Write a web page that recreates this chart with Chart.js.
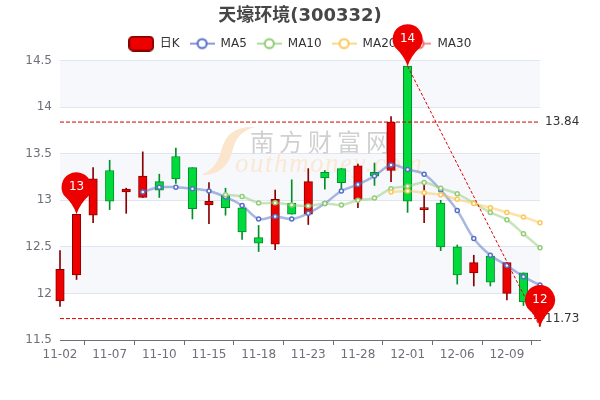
<!DOCTYPE html>
<html>
<head>
<meta charset="utf-8">
<style>
    html, body { margin: 0; padding: 0; background: #fff; }
    canvas { display: block; }
</style>
<script src="https://cdn.jsdelivr.net/npm/chart.js@4/dist/chart.umd.min.js"></script>
</head>
<body>
<canvas id="klineChart" width="600" height="400"></canvas>
<script>
    // Daily data
    const dates = ['11-02','11-03','11-04','11-07','11-08','11-09','11-10','11-11','11-14','11-15',
                   '11-16','11-17','11-18','11-21','11-22','11-23','11-24','11-25','11-28','11-29',
                   '11-30','12-01','12-02','12-05','12-06','12-07','12-08','12-09','12-12','12-13'];
    const opens  = [11.92,12.20,12.84,13.32,13.09,13.03,13.20,13.47,13.35,12.95,
                    13.05,12.92,12.60,12.53,12.97,12.85,13.30,13.34,13.01,13.30,
                    13.32,14.44,12.90,12.97,12.50,12.22,12.40,12.00,12.22,12.03];
    const closes = [12.26,12.85,13.23,12.99,13.12,13.26,13.11,13.23,12.91,12.99,
                    12.92,12.66,12.54,13.01,12.85,13.20,13.24,13.19,13.37,13.26,
                    13.84,12.99,12.91,12.50,12.20,12.33,12.12,12.33,11.91,11.73];
    const lows   = [11.86,12.15,12.76,12.90,12.86,13.03,13.03,13.18,12.80,12.75,
                    12.84,12.58,12.45,12.47,12.85,12.74,13.12,13.12,12.92,13.16,
                    13.20,12.87,12.76,12.46,12.10,12.08,12.08,11.93,11.87,11.65];
    const highs  = [12.46,12.85,13.35,13.43,13.13,13.52,13.28,13.56,13.35,13.19,
                    13.13,12.92,12.73,13.11,13.22,13.34,13.32,13.34,13.39,13.40,
                    13.90,14.44,13.16,13.00,12.52,12.41,12.43,12.33,12.22,12.05];

    const ma5 = [null,null,null,null,null,13.09,13.14,13.14,13.125,13.10,
                 13.035,12.945,12.80,12.825,12.80,12.86,12.965,13.10,13.17,13.26,
                 13.38,13.33,13.28,13.11,12.89,12.59,12.41,12.30,12.18,12.09];
    const ma10 = [null,null,null,null,null,null,null,null,null,null,
                  13.06,13.04,12.97,12.975,12.95,12.94,12.965,12.95,13.00,13.025,
                  13.125,13.15,13.19,13.13,13.07,12.97,12.87,12.79,12.64,12.49];
    const ma20 = [null,null,null,null,null,null,null,null,null,null,
                  null,null,null,null,null,null,null,null,null,null,
                  13.09,13.10,13.08,13.06,13.01,12.965,12.92,12.87,12.82,12.76];
    const ma30 = [];

    // Mark lines and pins
    const markHigh = 13.84;
    const markLow = 11.73;
    const trendLine = [null,null,null,null,null,null,null,null,null,null,
                       null,null,null,null,null,null,null,null,null,null,
                       null,14.44,null,null,null,null,null,null,null,11.64];
    const pinIndexes = [1, 21, 29];
    const pinValues = [12.85, 14.44, 11.64];
    const pinLabels = ['13', '14', '12'];
    const bandRanges = [[14, 14.5], [13, 13.5], [12, 12.5]];

    const UP = '#ec0000', UP_BORDER = '#8a0000';
    const DOWN = '#00da3c', DOWN_BORDER = '#008f28';
    const FONT = "'DejaVu Sans', 'Noto Sans CJK SC', sans-serif";

    const isUp = i => closes[i] >= opens[i];

    // Legend icons
    function lineIcon(color) {
        const c = document.createElement('canvas');
        c.width = 25; c.height = 14;
        const g = c.getContext('2d');
        g.globalAlpha = 0.7;
        g.strokeStyle = color;
        g.lineWidth = 2;
        g.beginPath(); g.moveTo(0, 7); g.lineTo(25, 7); g.stroke();
        g.globalAlpha = 1;
        g.fillStyle = '#fff';
        g.beginPath(); g.arc(12.5, 7, 4.5, 0, Math.PI * 2); g.fill(); g.stroke();
        return c;
    }

    function candleIcon() {
        const c = document.createElement('canvas');
        c.width = 26; c.height = 16;
        const g = c.getContext('2d');
        g.fillStyle = UP;
        g.strokeStyle = UP_BORDER;
        g.lineWidth = 2;
        g.beginPath(); g.roundRect(1, 1, 24, 14, 4); g.fill(); g.stroke();
        return c;
    }

    // One extra pixel under the legend
    const legendFitPlugin = {
        id: 'legendFit',
        beforeInit(chart) {
            const fit = chart.legend.fit;
            chart.legend.fit = function () {
                fit.call(this);
                this.height += 1;
            };
        }
    };

    // Bands behind the grid
    const bandsPlugin = {
        id: 'bands',
        beforeDraw(chart) {
            const { ctx, chartArea, scales } = chart;
            ctx.save();
            ctx.fillStyle = '#f6f8fc';
            bandRanges.forEach(r => {
                const top = scales.y.getPixelForValue(r[1]);
                const bottom = scales.y.getPixelForValue(r[0]);
                ctx.fillRect(chartArea.left, top, chartArea.width, bottom - top);
            });
            ctx.restore();
        }
    };

    // Site watermark under the candles
    const watermarkPlugin = {
        id: 'watermark',
        beforeDatasetsDraw(chart) {
            const ctx = chart.ctx;
            ctx.save();
            ctx.fillStyle = '#fbe6cd';
            ctx.beginPath();
            ctx.moveTo(201, 175);
            ctx.bezierCurveTo(214, 170, 219, 160, 222, 148);
            ctx.bezierCurveTo(226, 134, 236, 126, 255, 127);
            ctx.bezierCurveTo(240, 131, 235, 140, 232, 152);
            ctx.bezierCurveTo(228, 168, 216, 176, 201, 175);
            ctx.fill();

            ctx.textBaseline = 'alphabetic';
            ctx.textAlign = 'left';
            ctx.fillStyle = '#d0d0d0';
            ctx.font = "24px 'Noto Sans CJK SC'";
            ctx.letterSpacing = '5px';
            ctx.fillText('南方财富网', 250, 151);
            ctx.fillStyle = '#fbe8d4';
            ctx.font = "italic 27px 'Liberation Serif'";
            ctx.letterSpacing = '1.5px';
            ctx.fillText('outhmoney.com', 235, 172);
            ctx.restore();
        }
    };

    // Pins and mark line labels
    const marksPlugin = {
        id: 'marks',
        afterDatasetsDraw(chart) {
            const { ctx, scales } = chart;
            ctx.save();
            ctx.font = '12px ' + FONT;
            ctx.textBaseline = 'middle';
            ctx.textAlign = 'left';
            ctx.fillStyle = '#333';
            [markHigh, markLow].forEach(v => {
                ctx.fillText(v.toFixed(2), 545, scales.y.getPixelForValue(v));
            });

            ctx.textAlign = 'center';
            pinIndexes.forEach((idx, n) => {
                const x = scales.x.getPixelForValue(idx);
                const tip = scales.y.getPixelForValue(pinValues[n]);
                const cy = tip - 27;
                const r = 15;
                ctx.fillStyle = UP;
                ctx.beginPath();
                ctx.arc(x, cy, r, Math.PI * 0.82, Math.PI * 0.18);
                ctx.quadraticCurveTo(x + 3, cy + r + 2, x, tip);
                ctx.quadraticCurveTo(x - 3, cy + r + 2, x - r * Math.cos(Math.PI * 0.18), cy + r * Math.sin(Math.PI * 0.18));
                ctx.fill();
                ctx.fillStyle = '#fff';
                ctx.fillText(pinLabels[n], x, cy);
            });
            ctx.restore();
        }
    };

    function maDataset(label, data, color, rgba, order) {
        return {
            type: 'line',
            label: label,
            data: data,
            borderColor: rgba,
            borderWidth: 2.5,
            tension: 0.35,
            pointRadius: 2,
            pointBorderWidth: 1.5,
            pointBorderColor: color,
            pointBackgroundColor: '#fff',
            clip: false,
            order: order
        };
    }

    function markDataset(data, color, dash) {
        return {
            type: 'line',
            data: data,
            borderColor: color,
            borderWidth: 1,
            borderDash: dash,
            pointRadius: 0,
            spanGaps: true,
            clip: false,
            order: 1
        };
    }

    const legendIcons = [candleIcon(), lineIcon('#5470c6'), lineIcon('#91cc75'), lineIcon('#fac858'), lineIcon('#ee6666')];
    const legendNames = ['日K', 'MA5', 'MA10', 'MA20', 'MA30'];

    new Chart(document.getElementById('klineChart').getContext('2d'), {
        data: {
            labels: dates,
            datasets: [
                {
                    type: 'bar',
                    label: '日K',
                    data: dates.map((d, i) => [opens[i], closes[i]]),
                    backgroundColor: dates.map((d, i) => isUp(i) ? UP : DOWN),
                    borderColor: dates.map((d, i) => isUp(i) ? UP_BORDER : DOWN_BORDER),
                    borderWidth: 1,
                    borderSkipped: false,
                    barThickness: 8.5,
                    minBarLength: 2,
                    grouped: false,
                    clip: false,
                    order: 9
                },
                {
                    type: 'bar',
                    label: 'wick',
                    data: dates.map((d, i) => [lows[i], highs[i]]),
                    backgroundColor: dates.map((d, i) => isUp(i) ? UP_BORDER : DOWN_BORDER),
                    borderWidth: 0,
                    barThickness: 1,
                    grouped: false,
                    clip: false,
                    order: 10
                },
                maDataset('MA5', ma5, '#5470c6', 'rgba(84,112,198,0.5)', 5),
                maDataset('MA10', ma10, '#91cc75', 'rgba(145,204,117,0.5)', 4),
                maDataset('MA20', ma20, '#fac858', 'rgba(250,200,88,0.5)', 3),
                maDataset('MA30', ma30, '#ee6666', 'rgba(238,102,102,0.5)', 2),
                markDataset(dates.map(() => markHigh), '#cc0000', [4, 2]),
                markDataset(dates.map(() => markLow), '#e80000', [4, 2]),
                markDataset(trendLine, '#e00000', [3, 2])
            ]
        },
        options: {
            responsive: false,
            animation: false,
            layout: { padding: 0 },
            plugins: {
                title: {
                    display: true,
                    text: '天壕环境(300332)',
                    color: '#464646',
                    font: { family: FONT, size: 18, weight: 'bold' },
                    padding: { top: 6, bottom: 0 }
                },
                legend: {
                    display: true,
                    position: 'top',
                    labels: {
                        usePointStyle: true,
                        pointStyleWidth: 25,
                        padding: 10,
                        color: '#333',
                        font: { family: FONT, size: 12 },
                        generateLabels: () => legendNames.map((name, i) => ({
                            text: name,
                            pointStyle: legendIcons[i],
                            fontColor: '#333',
                            datasetIndex: i,
                            hidden: false
                        }))
                    }
                },
                tooltip: { enabled: false }
            },
            scales: {
                x: {
                    type: 'category',
                    offset: false,
                    afterFit: scale => { scale.height = 60; },
                    afterBuildTicks: scale => { scale.ticks = scale.ticks.filter((t, i) => i % 3 === 0); },
                    border: { color: '#6e7079' },
                    grid: { drawOnChartArea: false, color: '#6e7079', tickLength: 5 },
                    ticks: {
                        autoSkip: false,
                        maxRotation: 0,
                        color: '#6e7079',
                        padding: 3,
                        font: { family: FONT, size: 12 }
                    }
                },
                y: {
                    min: 11.5,
                    max: 14.5,
                    afterFit: scale => { scale.width = 60; },
                    border: { display: false },
                    grid: { color: '#e0e6f1', drawTicks: false },
                    ticks: {
                        stepSize: 0.5,
                        padding: 8,
                        color: '#6e7079',
                        font: { family: FONT, size: 12 },
                        callback: value => String(value)
                    }
                },
                // Empty axis that keeps the right margin, so title and legend stay centred on the page
                yRight: {
                    position: 'right',
                    afterFit: scale => { scale.width = 60; },
                    border: { display: false },
                    grid: { display: false },
                    ticks: { display: false }
                }
            }
        },
        plugins: [legendFitPlugin, bandsPlugin, watermarkPlugin, marksPlugin]
    });
</script>
</body>
</html>
